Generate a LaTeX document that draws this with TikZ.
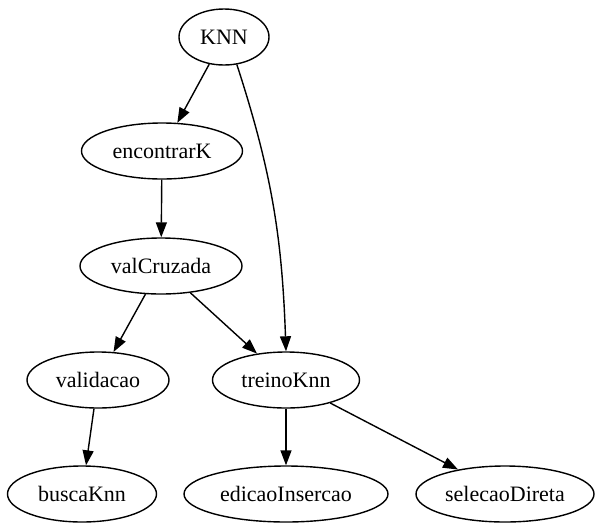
\documentclass[tikz,border=0pt]{standalone}
\usepackage{fontspec}
\setmainfont{Liberation Serif}
\usetikzlibrary{arrows.meta,shapes.geometric}

\begin{document}
\begin{tikzpicture}[
        x=1pt, y=-1pt,
        elip/.style={
            ellipse,
            draw=black,
            line width=1.4pt,
            inner sep=0pt,
            minimum height=56pt,
            font=\fontsize{22}{26}\selectfont
        },
        arrow/.style={-{Triangle[length=15pt, width=11pt]}, line width=1.4pt}
    ]
    \useasboundingbox (0,0) rectangle (599,523);

    \node[elip, minimum width=90pt] (knn) at (224,37) {KNN};
    \node[elip, minimum width=161pt] (encontrar) at (162,151) {encontrarK};
    \node[elip, minimum width=162pt] (valcruzada) at (161,266) {valCruzada};
    \node[elip, minimum width=142pt] (validacao) at (98,380) {validacao};
    \node[elip, minimum width=147pt] (treino) at (286,380) {treinoKnn};
    \node[elip, minimum width=149pt] (busca) at (82,494) {buscaKnn};
    \node[elip, minimum width=204pt] (edicao) at (286,494) {edicaoInsercao};
    \node[elip, minimum width=178pt] (selecao) at (505,494) {selecaoDireta};

    \draw[arrow] (knn) -- (encontrar);
    \draw[arrow] (knn.-65) to[out=-72, in=92] (treino.north);
    \draw[arrow] (encontrar) -- (valcruzada);
    \draw[arrow] (valcruzada) -- (validacao);
    \draw[arrow] (valcruzada) -- (treino);
    \draw[arrow] (validacao) -- (busca);
    \draw[arrow] (treino) -- (edicao);
    \draw[arrow] (treino) -- (selecao);
\end{tikzpicture}
\end{document}
